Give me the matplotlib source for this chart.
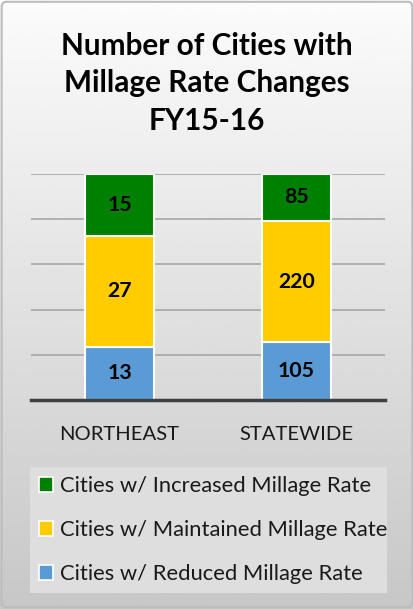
import numpy as np
import matplotlib
matplotlib.use("Agg")
import matplotlib.pyplot as plt
from matplotlib.patches import Patch, FancyBboxPatch

plt.rcParams['font.family'] = ['Lato', 'DejaVu Sans']

# data
regions = ['NORTHEAST', 'STATEWIDE']
reduced = [13, 105]
maintained = [27, 220]
increased = [15, 85]
series_names = ['Cities w/ Reduced Millage Rate',
                'Cities w/ Maintained Millage Rate',
                'Cities w/ Increased Millage Rate']
colors = ['#5B9BD5', '#FFCC00', '#008000']

counts = np.array([reduced, maintained, increased], dtype=float)
totals = counts.sum(axis=0)
shares = counts / totals * 100

fig = plt.figure(figsize=(4.14, 6.09), dpi=100)

# gradient background over the whole figure
bg = fig.add_axes([0, 0, 1, 1], zorder=-10)
grad = np.linspace(0.985, 0.78, 256).reshape(-1, 1)
bg.imshow(grad, aspect='auto', cmap='gray', vmin=0, vmax=1, extent=[0, 1, 0, 1])
bg.add_patch(FancyBboxPatch((0.004, 0.003), 0.992, 0.994, boxstyle='round,pad=0,rounding_size=0.01',
                            transform=bg.transAxes, fill=False, edgecolor='#bdbdbd', lw=1.5))
bg.set_xlim(0, 1)
bg.set_ylim(0, 1)
bg.axis('off')

ax = fig.add_axes([0.0749, 0.3432, 0.855, 0.371])
ax.set_facecolor('none')
x = np.arange(len(regions))
bottom = np.zeros(len(regions))
for i in range(3):
    ax.bar(x, shares[i], 0.39, bottom=bottom, color=colors[i], edgecolor='white',
           linewidth=1.5, label=series_names[i], zorder=3)
    for j in range(len(regions)):
        ax.text(x[j], bottom[j] + shares[i][j] / 2, '%d' % counts[i][j], ha='center', va='center',
                fontsize=15.3, fontweight='bold', color='black', zorder=4)
    bottom += shares[i]

ax.set_xlim(-0.5, 1.5)
ax.set_ylim(0, 100)
ax.set_yticks(np.arange(0, 101, 20))
ax.yaxis.grid(True, color='#a6a6a6', lw=1.2, zorder=0)
ax.tick_params(left=False, labelleft=False, bottom=False)
for s in ['top', 'right', 'left']:
    ax.spines[s].set_visible(False)
ax.spines['bottom'].set_color('#404040')
ax.spines['bottom'].set_linewidth(2.5)
ax.spines['bottom'].set_zorder(5)
ax.set_xticks(x)
ax.set_xticklabels(regions, fontsize=14.6, color='#1a1a1a')
ax.tick_params(axis='x', pad=15)

fig.text(0.5, 1 - 55 / 609, 'Number of Cities with', ha='center', va='baseline', fontsize=21.4, fontweight='bold')
fig.text(0.5, 1 - 92 / 609, 'Millage Rate Changes', ha='center', va='baseline', fontsize=21.4, fontweight='bold')
fig.text(0.5, 1 - 130 / 609, 'FY15-16', ha='center', va='baseline', fontsize=21.4, fontweight='bold')

handles = [Patch(facecolor=colors[i], edgecolor='white', lw=1.2) for i in [2, 1, 0]]
leg = ax.legend(handles, [series_names[i] for i in [2, 1, 0]], loc='lower left',
                bbox_to_anchor=(0.0725, 0.0263, 0.862, 0.2135), bbox_transform=fig.transFigure,
                mode='expand', borderaxespad=0, fontsize=15.8, frameon=True, fancybox=False,
                facecolor='#dedede', edgecolor='none', framealpha=1,
                handlelength=0.65, handleheight=0.65, handletextpad=0.3,
                labelspacing=1.1, borderpad=0.4)
for t in leg.get_texts():
    t.set_color('#1a1a1a')

fig.savefig('out.png', dpi=100)
